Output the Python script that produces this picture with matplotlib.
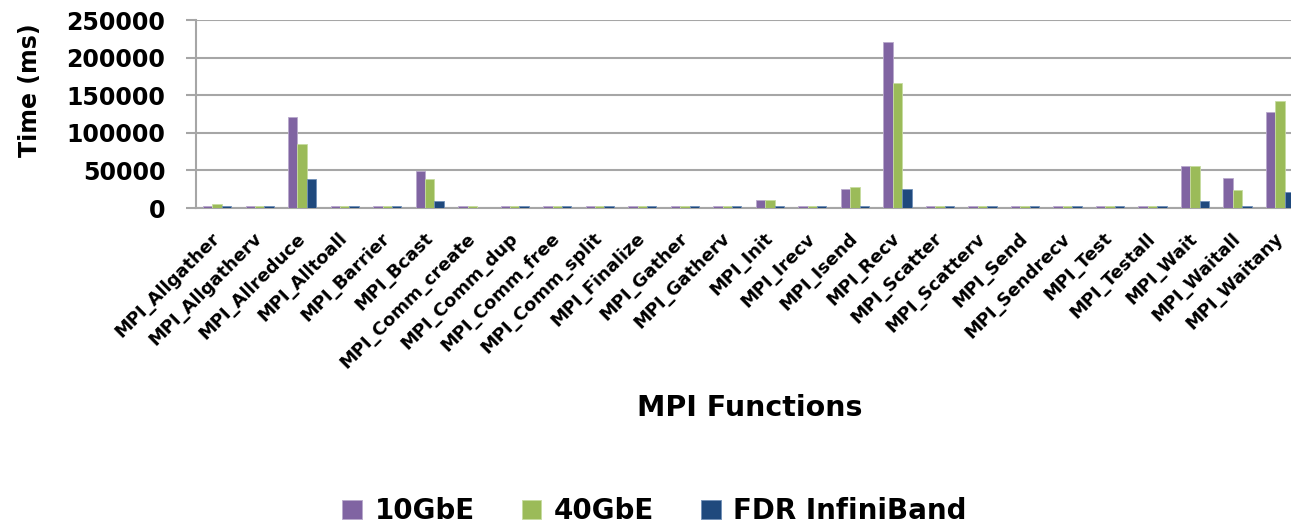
import matplotlib
matplotlib.use('Agg')
import matplotlib.pyplot as plt
import numpy as np

## data
functions = ['MPI_Allgather', 'MPI_Allgatherv', 'MPI_Allreduce', 'MPI_Alltoall', 'MPI_Barrier',
             'MPI_Bcast', 'MPI_Comm_create', 'MPI_Comm_dup', 'MPI_Comm_free', 'MPI_Comm_split',
             'MPI_Finalize', 'MPI_Gather', 'MPI_Gatherv', 'MPI_Init', 'MPI_Irecv', 'MPI_Isend',
             'MPI_Recv', 'MPI_Scatter', 'MPI_Scatterv', 'MPI_Send', 'MPI_Sendrecv', 'MPI_Test',
             'MPI_Testall', 'MPI_Wait', 'MPI_Waitall', 'MPI_Waitany']
gbe10 = [3000, 3000, 121500, 3000, 3000, 49500, 3000, 3000, 3000, 3000, 3000, 3000, 3000,
         10600, 3000, 25700, 221000, 3000, 3000, 3000, 3000, 3000, 3000, 55400, 40300, 127700]
gbe40 = [5300, 3000, 85000, 3000, 3000, 38600, 3000, 3000, 3000, 3000, 3000, 3000, 3000,
         10600, 3000, 27500, 165800, 3000, 3000, 3000, 3000, 3000, 3000, 55400, 23500, 142700]
fdr_ib = [3000, 3000, 38600, 3000, 3000, 8900, 0, 3000, 3000, 3000, 3000, 3000, 3000,
          3000, 3000, 3000, 25700, 3000, 3000, 3000, 3000, 3000, 3000, 8900, 3000, 21300]

series = [('10GbE', gbe10, '#8064A2', '#B9A9CC'),
          ('40GbE', gbe40, '#9BBB59', '#C7DCA0'),
          ('FDR InfiniBand', fdr_ib, '#1F497D', '#6F8FB8')]

## plt config
plt.rcParams['font.family'] = ['DejaVu Sans']
plt.rcParams['font.weight'] = 'bold'

fig = plt.figure(figsize=(12.91, 5.25), dpi=100)
ax = fig.add_axes([0.1518, 0.6038, 0.856, 0.3581])

x = np.arange(len(functions))
w = 0.223
for i, (name, vals, col, edge) in enumerate(series):
    ax.bar(x + (i - 1) * w, vals, w, color=col, edgecolor=edge, linewidth=0.6, label=name, zorder=3)

ax.set_xlim(-0.5, len(functions) - 0.5)
ax.set_ylim(0, 250000)
ax.set_yticks(np.arange(0, 250001, 50000))
ax.yaxis.grid(True, color='#A6A6A6', linewidth=1.5, zorder=0)
ax.set_axisbelow(True)

for s in ['top', 'right']:
    ax.spines[s].set_visible(False)
for s in ['left', 'bottom']:
    ax.spines[s].set_color('#A6A6A6')
    ax.spines[s].set_linewidth(1.5)

ax.tick_params(axis='y', direction='out', length=7, width=1.5, color='#A6A6A6',
               labelsize=17, pad=15)
ax.tick_params(axis='x', length=0, pad=20)
ax.set_xticks(x)
ax.set_xticklabels(functions, rotation=45, ha='right', va='center', rotation_mode='anchor',
                   fontsize=13, fontweight='bold')

ax.set_ylabel('Time (ms)', fontsize=17, fontweight='bold')
ax.yaxis.set_label_coords(-0.139, 0.628)
fig.text(0.581, 0.223, 'MPI Functions', fontsize=20.5, fontweight='bold', ha='center', va='center')

fig.legend(loc='center', bbox_to_anchor=(0.507, 0.026), ncol=3, frameon=False,
           handlelength=0.7, handleheight=0.7, handletextpad=0.45,
           columnspacing=1.7, prop={'weight': 'bold', 'size': 20})

plt.savefig('out.png', dpi=100)
